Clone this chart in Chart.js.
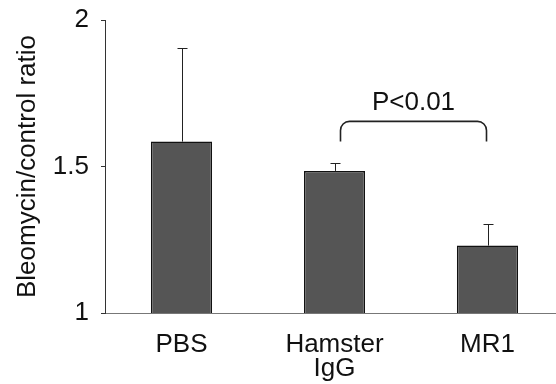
<!DOCTYPE html>
<html>
<head>
<meta charset="utf-8">
<script src="https://cdn.jsdelivr.net/npm/chart.js@4.4.1/dist/chart.umd.min.js"></script>
<style>
  html, body { margin: 0; padding: 0; background: #fff; overflow: hidden; }
  #wrap { width: 564px; height: 384px; }
</style>
</head>
<body>
<div id="wrap"><canvas id="myBarChart"></canvas></div>
<script>
var groups = [["PBS"], ["Hamster", "IgG"], ["MR1"]];
var ratios = [1.585, 1.485, 1.23];
var errTop = [1.905, 1.511, 1.303];
var yTicks = [1, 1.5, 2];
var pText = "P<0.01";

var fontFam = "'Liberation Sans', Arial, sans-serif";

// error bars (upper only) + significance bracket
var extras = {
  id: "extras",
  afterDatasetsDraw: function(chart) {
    var ctx = chart.ctx;
    var x = chart.scales.x, y = chart.scales.y;
    var meta = chart.getDatasetMeta(0);
    ctx.save();
    ctx.strokeStyle = "#222";
    ctx.lineWidth = 1;
    meta.data.forEach(function(bar, i) {
      var cx = Math.round(bar.x) + 0.5;
      var y0 = y.getPixelForValue(ratios[i]);
      var y1 = Math.round(y.getPixelForValue(errTop[i])) + 0.5;
      ctx.beginPath();
      ctx.moveTo(cx, y0);
      ctx.lineTo(cx, y1);
      ctx.moveTo(cx - 5, y1);
      ctx.lineTo(cx + 5, y1);
      ctx.stroke();
    });

    // bracket between Hamster IgG and MR1
    var xa = x.getPixelForValue(1) + 6;
    var xb = x.getPixelForValue(2) - 1;
    var yt = y.getPixelForValue(1.654);
    var yb = y.getPixelForValue(1.585);
    var r = 9;
    ctx.lineWidth = 1.6;
    ctx.beginPath();
    ctx.moveTo(xa, yb);
    ctx.lineTo(xa, yt + r);
    ctx.arcTo(xa, yt, xa + r, yt, r);
    ctx.lineTo(xb - r, yt);
    ctx.arcTo(xb, yt, xb, yt + r, r);
    ctx.lineTo(xb, yb);
    ctx.stroke();

    ctx.fillStyle = "#111";
    ctx.font = "26px " + fontFam;
    ctx.textAlign = "center";
    ctx.textBaseline = "alphabetic";
    ctx.fillText(pText, (xa + xb) / 2, yt - 11);
    ctx.restore();
  }
};

new Chart("myBarChart", {
  type: "bar",
  data: {
    labels: groups,
    datasets: [{
      data: ratios,
      backgroundColor: "#555",
      borderColor: "#111",
      borderWidth: 1.5,
      borderSkipped: false,
      categoryPercentage: 1,
      barPercentage: 0.4
    }]
  },
  options: {
    responsive: true,
    maintainAspectRatio: false,
    animation: false,
    layout: { padding: { top: 20, left: 0, right: 0, bottom: 0 } },
    plugins: {
      legend: { display: false },
      tooltip: { enabled: false }
    },
    scales: {
      x: {
        grid: { drawOnChartArea: false, drawTicks: false },
        border: { color: "#777", width: 1 },
        ticks: {
          color: "#111",
          padding: 19,
          font: { family: fontFam, size: 26, lineHeight: 0.95 },
          maxRotation: 0
        },
        afterFit: function(s) { s.height = 71; s.paddingLeft = 0; s.paddingRight = 0; }
      },
      y: {
        min: 1,
        max: 2,
        afterBuildTicks: function(s) {
          s.ticks = yTicks.map(function(v) { return { value: v }; });
        },
        grid: { drawOnChartArea: false, tickLength: 4, color: "#333" },
        border: { color: "#333", width: 1 },
        ticks: {
          color: "#111",
          padding: 12,
          font: { family: fontFam, size: 26 },
          callback: function(v) { return String(v); }
        },
        title: {
          display: true,
          text: "Bleomycin/control ratio",
          color: "#111",
          font: { family: fontFam, size: 26 },
          padding: { top: 12, bottom: 0 }
        },
        afterFit: function(s) { s.width = 105; s.paddingTop = 0; s.paddingBottom = 0; }
      }
    }
  },
  plugins: [extras]
});
</script>
</body>
</html>
